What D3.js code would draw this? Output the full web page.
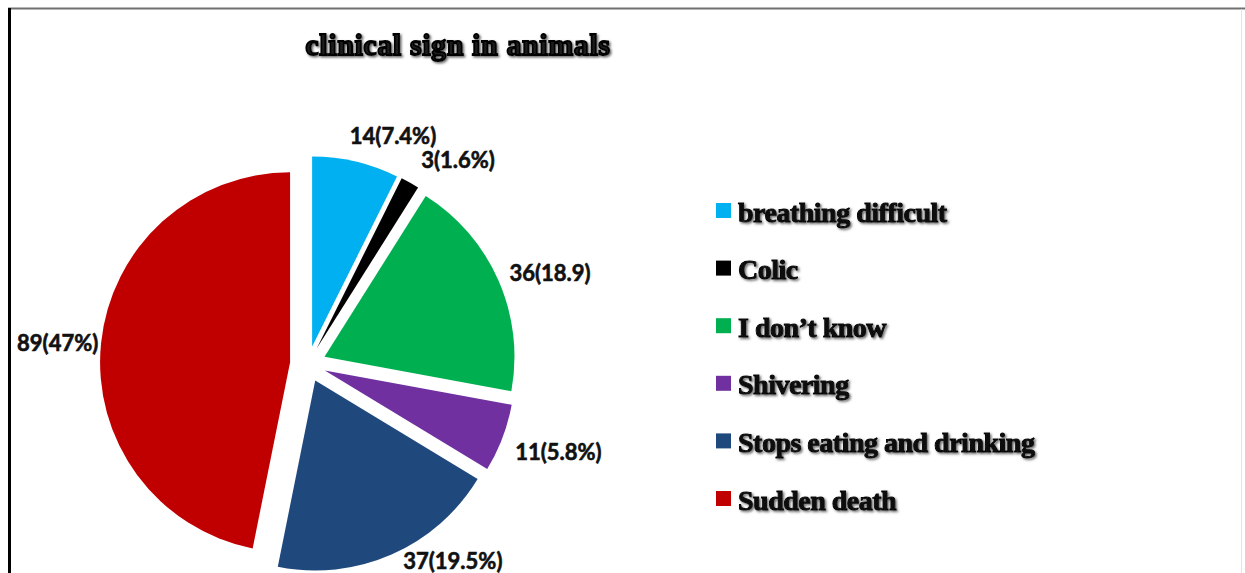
<!DOCTYPE html>
<html>
<head>
<meta charset="utf-8">
<script src="https://cdn.jsdelivr.net/npm/d3@7"></script>
<style>
  html, body { margin: 0; padding: 0; background: #fff; }
  svg { display: block; }
</style>
</head>
<body>
<svg id="chart" width="1245" height="573"></svg>
<script>
// Clinical signs reported in animals (counts and share of 190 responses)
const categories = ["breathing difficult", "Colic", "I don\u2019t know", "Shivering", "Stops eating and drinking", "Sudden death"];
const counts = [14, 3, 36, 11, 37, 89];
const labelTexts = ["14(7.4%)", "3(1.6%)", "36(18.9)", "11(5.8%)", "37(19.5%)", "89(47%)"];
const colors = ["#00B0F0", "#000000", "#00B050", "#7030A0", "#1F497D", "#C00000"];
const title = "clinical sign in animals";

// layout
const W = 1245, H = 573;
const cx = 308, cy = 364, radius = 190, explode = 18;
// small hand adjustments of the value labels (px), like a spreadsheet's label placement
const labelNudge = [[26, -10], [27, -9], [9, -2], [10, 8], [39, -9], [3, 1]];

const svg = d3.select("#chart");

const defs = svg.append("defs");
const shadow = defs.append("filter").attr("id", "txtShadow")
  .attr("x", "-10%").attr("y", "-30%").attr("width", "120%").attr("height", "160%");
shadow.append("feDropShadow").attr("dx", 1.5).attr("dy", 1.5)
  .attr("stdDeviation", 1.2).attr("flood-color", "#555").attr("flood-opacity", 0.9);

// frame lines
svg.append("line").attr("x1", 8).attr("x2", W).attr("y1", 8.5).attr("y2", 8.5)
  .attr("stroke", "#707070").attr("stroke-width", 2);
svg.append("line").attr("x1", 9.5).attr("x2", 9.5).attr("y1", 8).attr("y2", H)
  .attr("stroke", "#000").attr("stroke-width", 3);
svg.append("line").attr("x1", 1241.5).attr("x2", 1241.5).attr("y1", 9).attr("y2", H)
  .attr("stroke", "#e4e4e4").attr("stroke-width", 1);

// title
svg.append("text")
  .attr("x", 458).attr("y", 55)
  .attr("text-anchor", "middle")
  .attr("font-family", "'Liberation Serif', 'DejaVu Serif', serif")
  .attr("font-weight", "bold")
  .attr("font-size", 30)
  .attr("letter-spacing", 0.6)
  .attr("fill", "#1a1a1a")
  .attr("stroke", "#000").attr("stroke-width", 1.8)
  .attr("filter", "url(#txtShadow)")
  .text(title);

// pie
const pie = d3.pie().sort(null).value(d => d)(counts);
const arc = d3.arc().innerRadius(0).outerRadius(radius);

const g = svg.append("g").attr("transform", `translate(${cx},${cy})`);

const slices = g.selectAll("g.slice").data(pie).enter().append("g")
  .attr("class", "slice")
  .attr("transform", d => {
    const a = (d.startAngle + d.endAngle) / 2;
    return `translate(${explode * Math.sin(a)},${-explode * Math.cos(a)})`;
  });

slices.append("path")
  .attr("d", arc)
  .attr("fill", (d, i) => colors[i]);

// value labels outside each slice end
const labelFont = 22;
slices.append("text")
  .attr("font-family", "Lato, 'Open Sans', sans-serif")
  .attr("font-weight", "bold")
  .attr("font-size", labelFont)
  .attr("fill", "#111")
  .attr("stroke", "#111").attr("stroke-width", 0.6)
  .attr("text-anchor", "middle")
  .attr("dominant-baseline", "central")
  .text((d, i) => labelTexts[i])
  .each(function (d, i) {
    const a = (d.startAngle + d.endAngle) / 2;
    const w = this.getComputedTextLength();
    const h = 20;
    const r = radius + 6;
    const px = r * Math.sin(a) + Math.sin(a) * w / 2 + labelNudge[i][0];
    const py = -r * Math.cos(a) - Math.cos(a) * h / 2 + labelNudge[i][1];
    d3.select(this).attr("x", px).attr("y", py);
  });

// legend
const legend = svg.append("g").attr("transform", "translate(716,203)");
const rowStep = 57.6;
const rows = legend.selectAll("g.row").data(categories).enter().append("g")
  .attr("class", "row")
  .attr("transform", (d, i) => `translate(0,${i * rowStep})`);

rows.append("rect")
  .attr("width", 15).attr("height", 15)
  .attr("fill", (d, i) => colors[i]);

rows.append("text")
  .attr("x", 22).attr("y", 18.5)
  .attr("font-family", "'Liberation Serif', 'DejaVu Serif', serif")
  .attr("font-weight", "bold")
  .attr("font-size", 28)
  .attr("letter-spacing", -0.5)
  .attr("fill", "#111")
  .attr("stroke", "#000").attr("stroke-width", 0.9)
  .attr("filter", "url(#txtShadow)")
  .text(d => d);
</script>
</body>
</html>
